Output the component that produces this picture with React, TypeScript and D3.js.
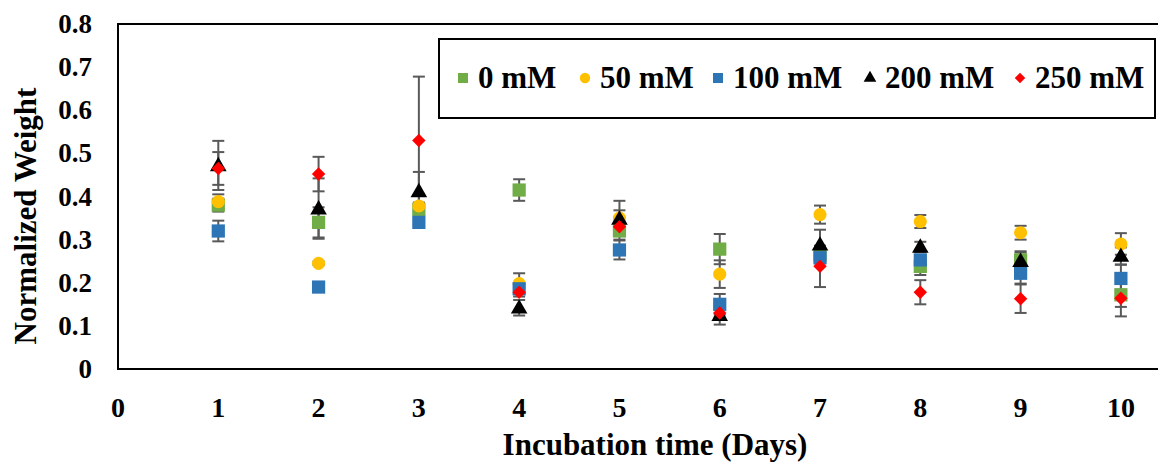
import React from "react";
import * as d3 from "d3";

const days = [1, 2, 3, 4, 5, 6, 7, 8, 9, 10];
const seriesNames = ["0 mM", "50 mM", "100 mM", "200 mM", "250 mM"];

const mM0 = [0.38, 0.34, 0.37, 0.415, 0.32, 0.278, 0.265, 0.238, 0.253, 0.172];
const err0 = [0.015, 0.035, 0.01, 0.025, 0.02, 0.035, 0.02, 0.02, 0.02, 0.05];
const mM50 = [0.388, 0.245, 0.378, 0.198, 0.35, 0.22, 0.358, 0.342, 0.316, 0.29];
const err50 = [0.017, 0.004, 0.008, 0.024, 0.04, 0.032, 0.021, 0.015, 0.016, 0.025];
const mM100 = [0.32, 0.19, 0.34, 0.186, 0.276, 0.15, 0.258, 0.253, 0.222, 0.21];
const err100 = [0.024, 0.004, 0.006, 0.01, 0.022, 0.024, 0.01, 0.01, 0.024, 0.032];
const mM200 = [0.472, 0.372, 0.412, 0.142, 0.348, 0.125, 0.288, 0.283, 0.25, 0.262];
const err200 = [0.057, 0.07, 0.045, 0.018, 0.02, 0.022, 0.035, 0.012, 0.02, 0.02];
const mM250 = [0.465, 0.452, 0.53, 0.178, 0.33, 0.13, 0.238, 0.178, 0.163, 0.164];
const err250 = [0.038, 0.04, 0.148, 0.01, 0.01, 0.01, 0.048, 0.028, 0.033, 0.02];

const xTicks = [0, 1, 2, 3, 4, 5, 6, 7, 8, 9, 10];
const yTicks = [0, 0.1, 0.2, 0.3, 0.4, 0.5, 0.6, 0.7, 0.8];

const W = 1158;
const H = 462;
const font = "'Liberation Serif', 'Times New Roman', serif";

// plot frame in pixels
const left = 118;
const top = 24;
const bottom = 369;

const x = d3.scaleLinear().domain([0, 10.4]).range([left, left + 1043]);
const y = d3.scaleLinear().domain([0, 0.8]).range([bottom, top]);

const colors = ["#70AD47", "#FFC000", "#2E75B6", "#000000", "#FF0000"];
const shapes = [d3.symbolSquare, d3.symbolCircle, d3.symbolSquare, d3.symbolTriangle, d3.symbolSquare];
const sizes = [175, 135, 175, 120, 90];
const rotations = [0, 0, 0, 0, 45];
const legendSizes = [100, 85, 100, 70, 55];

const series = [
  { name: seriesNames[0], values: mM0, errs: err0 },
  { name: seriesNames[1], values: mM50, errs: err50 },
  { name: seriesNames[2], values: mM100, errs: err100 },
  { name: seriesNames[3], values: mM200, errs: err200 },
  { name: seriesNames[4], values: mM250, errs: err250 },
];

const legendX = [463, 585, 718, 870, 1020];

export default function App() {
  const marker = (i: number, size: number) => d3.symbol().type(shapes[i]).size(size)() as string;

  return (
    <svg width={W} height={H} style={{ position: "absolute", left: 0, top: 0, background: "#fff" }}>
      {/* plot frame */}
      <path
        d={`M${x(10.4) + 10},${top} H${left} V${bottom} H${x(10.4) + 10}`}
        fill="none"
        stroke="#000"
        strokeWidth={2}
      />

      {/* y tick labels */}
      {yTicks.map((t) => (
        <text
          key={"y" + t}
          x={92}
          y={y(t) + 9}
          textAnchor="end"
          fontFamily={font}
          fontWeight="bold"
          fontSize={27}
        >
          {t === 0 ? "0" : d3.format(".1f")(t)}
        </text>
      ))}

      {/* x tick labels */}
      {xTicks.map((t) => (
        <text
          key={"x" + t}
          x={x(t)}
          y={417}
          textAnchor="middle"
          fontFamily={font}
          fontWeight="bold"
          fontSize={28}
        >
          {t}
        </text>
      ))}

      {/* axis titles */}
      <text x={655} y={455} textAnchor="middle" fontFamily={font} fontWeight="bold" fontSize={31}>
        Incubation time (Days)
      </text>
      <text
        transform="translate(36,216) rotate(-90)"
        textAnchor="middle"
        fontFamily={font}
        fontWeight="bold"
        fontSize={31}
      >
        Normalized Weight
      </text>

      {/* error bars */}
      {series.map((s, si) => (
        <g key={"e" + si} stroke="#595959" strokeWidth={2}>
          {s.values.map((v, i) => {
            const cx = x(days[i]);
            const y1 = y(v + s.errs[i]);
            const y2 = y(v - s.errs[i]);
            return (
              <g key={i}>
                <line x1={cx} x2={cx} y1={y1} y2={y2} />
                <line x1={cx - 6} x2={cx + 6} y1={y1} y2={y1} />
                <line x1={cx - 6} x2={cx + 6} y1={y2} y2={y2} />
              </g>
            );
          })}
        </g>
      ))}

      {/* markers */}
      {series.map((s, si) => (
        <g key={"m" + si} fill={colors[si]}>
          {s.values.map((v, i) => (
            <path
              key={i}
              d={marker(si, sizes[si])}
              transform={`translate(${x(days[i])},${y(v) + (si === 3 ? 1 : 0)}) rotate(${rotations[si]})`}
            />
          ))}
        </g>
      ))}

      {/* legend */}
      <rect x={439} y={39} width={716} height={79} fill="#fff" stroke="#000" strokeWidth={2} />
      {series.map((s, si) => (
        <g key={"l" + si}>
          <path
            d={marker(si, legendSizes[si])}
            fill={colors[si]}
            transform={`translate(${legendX[si]},78) rotate(${rotations[si]})`}
          />
          <text
            x={legendX[si] + 15}
            y={88}
            fontFamily={font}
            fontWeight="bold"
            fontSize={31}
          >
            {s.name}
          </text>
        </g>
      ))}
    </svg>
  );
}
